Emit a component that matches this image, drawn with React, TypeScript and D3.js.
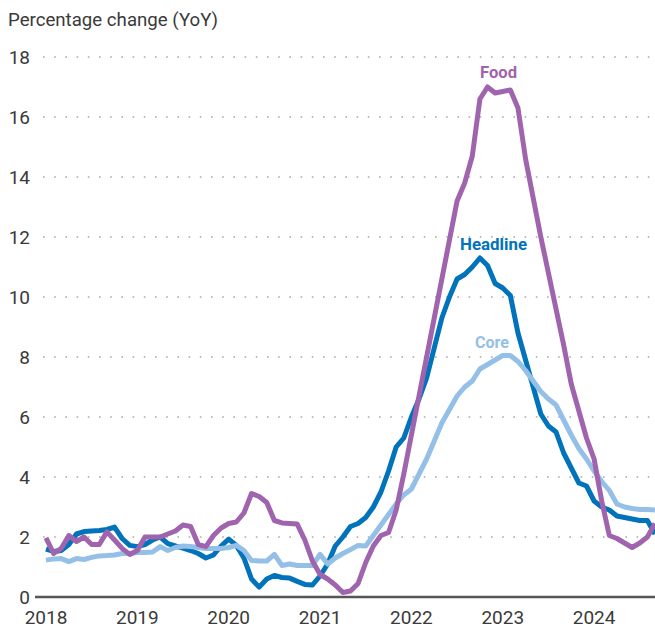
import React from 'react';
import * as d3 from 'd3';

// monthly YoY %, Jan 2018 .. Sep 2024
const headline = [
  1.6, 1.52, 1.55, 1.75, 2.1, 2.18, 2.2, 2.22, 2.25, 2.33, 1.95, 1.72,
  1.68, 1.75, 1.9, 2.0, 1.78, 1.7, 1.63, 1.55, 1.45, 1.3, 1.4, 1.7,
  1.93, 1.72, 1.3, 0.6, 0.33, 0.6, 0.72, 0.65, 0.63, 0.52, 0.42, 0.4,
  0.7, 1.1, 1.7, 2.0, 2.35, 2.45, 2.65, 3.0, 3.5, 4.2, 5.0, 5.3,
  6.0, 6.6, 7.3, 8.3, 9.3, 10.0, 10.6, 10.75, 11.0, 11.3, 11.05, 10.45,
  10.3, 10.05, 8.8, 7.9, 7.0, 6.1, 5.7, 5.5, 4.8, 4.3, 3.8, 3.7,
  3.2, 3.0, 2.9, 2.7, 2.65, 2.6, 2.55, 2.55, 2.1,
];
const core = [
  1.23, 1.27, 1.28, 1.18, 1.28, 1.25, 1.32, 1.37, 1.38, 1.4, 1.45, 1.45,
  1.48, 1.48, 1.5, 1.68, 1.55, 1.65, 1.7, 1.68, 1.65, 1.62, 1.62, 1.62,
  1.65, 1.72, 1.55, 1.22, 1.2, 1.2, 1.42, 1.05, 1.1, 1.05, 1.05, 1.05,
  1.42, 1.1, 1.3, 1.45, 1.58, 1.72, 1.7, 2.05, 2.4, 2.75, 3.1, 3.4,
  3.6, 4.1, 4.6, 5.2, 5.8, 6.25, 6.7, 7.0, 7.2, 7.6, 7.75, 7.9,
  8.05, 8.05, 7.85, 7.55, 7.2, 6.85, 6.6, 6.4, 5.9, 5.4, 4.95, 4.6,
  4.2, 3.85, 3.55, 3.1, 3.0, 2.95, 2.92, 2.92, 2.9,
];
const food = [
  1.97, 1.45, 1.62, 2.05, 1.85, 2.0, 1.75, 1.75, 2.17, 1.9, 1.62, 1.42,
  1.55, 2.0, 2.0, 2.0, 2.1, 2.2, 2.4, 2.35, 1.75, 1.68, 2.05, 2.3,
  2.45, 2.5, 2.8, 3.45, 3.35, 3.15, 2.55, 2.47, 2.45, 2.43, 1.9, 1.2,
  0.75, 0.6, 0.4, 0.15, 0.2, 0.45, 1.15, 1.7, 2.05, 2.15, 2.9, 4.1,
  5.4, 6.7, 8.0, 9.3, 10.6, 11.9, 13.2, 13.8, 14.7, 16.6, 17.0, 16.8,
  16.85, 16.9, 16.3, 14.6, 13.3, 12.0, 10.8, 9.6, 8.4, 7.1, 6.2, 5.3,
  4.6, 3.2, 2.05, 1.95, 1.8, 1.65, 1.8, 2.0, 2.45,
];
const years = ['2018', '2019', '2020', '2021', '2022', '2023', '2024'];
const yTicks = [0, 2, 4, 6, 8, 10, 12, 14, 16, 18];

const W = 655;
const H = 629;

export default function App() {
  const x = d3.scaleLinear().domain([0, food.length - 1]).range([46, 655]);
  const y = d3.scaleLinear().domain([0, 18]).range([597, 57]);
  const line = d3.line<number>().x((d, i) => x(i)).y(d => y(d));

  const series = [
    { name: 'Headline', data: headline, color: '#0173bb' },
    { name: 'Core', data: core, color: '#94c0e7' },
    { name: 'Food', data: food, color: '#a064ae' },
  ];

  return (
    <svg width={W} height={H} style={{ position: 'absolute', left: 0, top: 0 }} fontFamily="Roboto">
      <rect width={W} height={H} fill="#fff" />
      <text x={8} y={26} fontSize={19} fill="#3a3a3a" textLength={210} lengthAdjust="spacingAndGlyphs">
        Percentage change (YoY)
      </text>
      {yTicks.map(t => (
        <g key={t}>
          {t > 0 && (
            <line x1={43} x2={655} y1={y(t)} y2={y(t)} stroke="#a8a8a8" strokeWidth={1.6}
              strokeDasharray="1.6 9.6" />
          )}
          <text x={30} y={y(t) + 6.5} textAnchor="end" fontSize={19} fill="#3a3a3a">{t}</text>
        </g>
      ))}
      <line x1={35} x2={655} y1={y(0)} y2={y(0)} stroke="#555" strokeWidth={2.5} />
      {years.map((yr, k) => (
        <text key={yr} x={x(k * 12)} y={624} textAnchor="middle" fontSize={19} fill="#3a3a3a">{yr}</text>
      ))}
      {series.map(s => (
        <path key={s.name} d={line(s.data) || ''} fill="none" stroke={s.color} strokeWidth={5}
          strokeLinejoin="round" />
      ))}
      <text x={498.5} y={78} textAnchor="middle" fontSize={17} fontWeight="bold" fill="#a064ae"
        textLength={37} lengthAdjust="spacingAndGlyphs">Food</text>
      <text x={493.5} y={250} textAnchor="middle" fontSize={17} fontWeight="bold" fill="#0173bb"
        textLength={67} lengthAdjust="spacingAndGlyphs">Headline</text>
      <text x={492} y={348} textAnchor="middle" fontSize={17} fontWeight="bold" fill="#94c0e7"
        textLength={34} lengthAdjust="spacingAndGlyphs">Core</text>
    </svg>
  );
}
